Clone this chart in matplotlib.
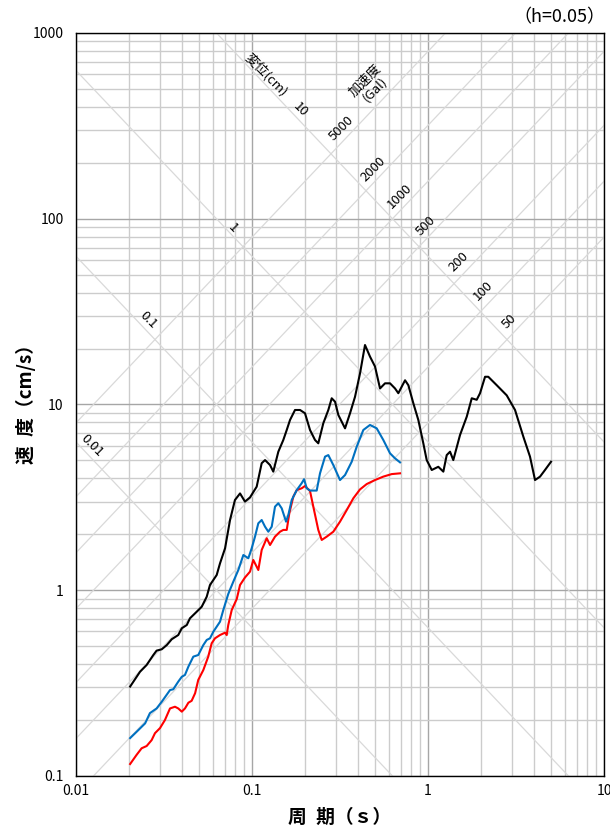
import numpy as np
import matplotlib
matplotlib.use("Agg")
import matplotlib.pyplot as plt

plt.rcParams['font.family'] = ['Noto Sans CJK JP', 'DejaVu Sans']

# spectra (period s, velocity cm/s)
t_black = [0.0203, 0.0231, 0.0252, 0.0275, 0.0287, 0.0307, 0.0328, 0.035, 0.0381, 0.0399,
           0.0426, 0.0444, 0.0485, 0.0518, 0.0553, 0.0577, 0.063, 0.0658, 0.0703, 0.075,
           0.080, 0.0855, 0.0912, 0.0974, 0.1063, 0.1135, 0.1186, 0.1266, 0.1321, 0.1411,
           0.1506, 0.1575, 0.1644, 0.1755, 0.1875, 0.2, 0.2136, 0.228, 0.238, 0.2542,
           0.2714, 0.2837, 0.2963, 0.3094, 0.3377, 0.3605, 0.3848, 0.4108, 0.4385, 0.4682,
           0.5, 0.5337, 0.5698, 0.6083, 0.6494, 0.6781, 0.7405, 0.7732, 0.8253, 0.881,
           0.9404, 0.983, 1.05, 1.144, 1.222, 1.277, 1.334, 1.392, 1.52, 1.66,
           1.772, 1.891, 1.975, 2.109, 2.2, 2.457, 2.8, 3.122, 3.48, 3.797,
           4.055, 4.33, 4.62, 5.0]
v_black = [0.303, 0.364, 0.396, 0.448, 0.473, 0.481, 0.507, 0.545, 0.574, 0.624,
           0.650, 0.706, 0.766, 0.815, 0.923, 1.067, 1.208, 1.396, 1.683, 2.388,
           3.06, 3.32, 3.0, 3.16, 3.61, 4.83, 5.02, 4.72, 4.35, 5.57,
           6.44, 7.29, 8.25, 9.34, 9.34, 8.97, 7.29, 6.44, 6.18, 7.93,
           9.34, 10.8, 10.35, 8.78, 7.44, 8.97, 11.0, 14.7, 20.9, 18.1,
           16.0, 12.2, 13.0, 13.0, 12.2, 11.5, 13.5, 12.7, 10.15, 8.25,
           6.18, 5.02, 4.44, 4.62, 4.35, 5.34, 5.57, 5.02, 6.85, 8.6,
           10.8, 10.6, 11.5, 14.1, 14.1, 12.7, 11.2, 9.34, 6.71, 5.24,
           3.92, 4.09, 4.44, 4.92]

t_blue = [0.0203, 0.0221, 0.0247, 0.0263, 0.0287, 0.0307, 0.0342, 0.0357, 0.0381, 0.0399,
          0.0416, 0.0435, 0.0464, 0.0495, 0.0529, 0.0553, 0.0577, 0.0603, 0.0658, 0.0687,
          0.0733, 0.0783, 0.0836, 0.0893, 0.0953, 0.0996, 0.104, 0.1086, 0.1135, 0.1186,
          0.1238, 0.1294, 0.1351, 0.1411, 0.1475, 0.1561, 0.1608, 0.1681, 0.1795, 0.1916,
          0.1975, 0.2046, 0.2136, 0.2331, 0.2434, 0.26, 0.2714, 0.2897, 0.3162, 0.3377,
          0.3686, 0.3935, 0.429, 0.4682, 0.511, 0.5572, 0.6083, 0.6494, 0.6934]
v_blue = [0.160, 0.173, 0.192, 0.218, 0.231, 0.251, 0.290, 0.293, 0.322, 0.342,
          0.350, 0.388, 0.439, 0.448, 0.507, 0.540, 0.551, 0.598, 0.677, 0.783,
          0.955, 1.112, 1.285, 1.548, 1.486, 1.683, 1.943, 2.293, 2.388, 2.198,
          2.066, 2.198, 2.818, 2.94, 2.76, 2.34, 2.54, 3.06, 3.46, 3.77,
          3.96, 3.54, 3.44, 3.44, 4.26, 5.24, 5.34, 4.72, 3.92, 4.17,
          4.92, 5.93, 7.29, 7.76, 7.44, 6.44, 5.46, 5.13, 4.88]

t_red = [0.0203, 0.0221, 0.0236, 0.0252, 0.0269, 0.0281, 0.030, 0.032, 0.0342, 0.0365,
         0.0381, 0.0399, 0.0416, 0.0435, 0.0454, 0.0475, 0.0495, 0.0529, 0.0564, 0.059,
         0.0616, 0.0658, 0.0703, 0.0718, 0.0733, 0.0767, 0.0819, 0.0855, 0.0912, 0.0974,
         0.1017, 0.1086, 0.1135, 0.1212, 0.1266, 0.1351, 0.1443, 0.1506, 0.1575, 0.1629,
         0.1717, 0.1795, 0.1916, 0.2, 0.2136, 0.223, 0.238, 0.2489, 0.2657, 0.2897,
         0.3162, 0.3451, 0.3764, 0.4108, 0.4485, 0.5, 0.5572, 0.6221, 0.6934]
v_red = [0.116, 0.130, 0.141, 0.145, 0.156, 0.170, 0.181, 0.200, 0.231, 0.236,
         0.231, 0.222, 0.231, 0.248, 0.254, 0.279, 0.329, 0.372, 0.439, 0.518,
         0.551, 0.574, 0.591, 0.574, 0.650, 0.783, 0.897, 1.067, 1.171, 1.259,
         1.455, 1.285, 1.647, 1.905, 1.752, 1.943, 2.066, 2.112, 2.112, 2.596,
         3.19, 3.46, 3.54, 3.64, 3.42, 2.818, 2.112, 1.865, 1.943, 2.066,
         2.34, 2.70, 3.126, 3.49, 3.73, 3.92, 4.09, 4.22, 4.26]

# tripartite guide lines
disp_cm = [0.01, 0.1, 1, 10]
acc_gal = [50, 100, 200, 500, 1000, 2000, 5000]

# label anchors (period, velocity) for the guide lines
disp_lbl = [("0.01", 0.0123, 5.98), ("0.1", 0.0257, 28.5), ("1", 0.0781, 89.2), ("10", 0.1875, 385)]
acc_lbl = [("5000", 0.3234, 307), ("2000", 0.489, 184.6), ("1000", 0.6934, 131.4),
           ("500", 0.974, 91.4), ("200", 1.487, 58.7), ("100", 2.062, 41.0), ("50", 2.897, 27.9)]

fig = plt.figure(figsize=(6.1, 8.31), dpi=100)
ax = fig.add_axes([0.1246, 0.0662, 0.8656, 0.8941])
ax.set_xscale('log')
ax.set_yscale('log')
ax.set_xlim(0.01, 10)
ax.set_ylim(0.1, 1000)

ax.grid(True, which='major', color='#a6a6a6', lw=1.0)
ax.grid(True, which='minor', color='#cccccc', lw=1.0)
ax.set_axisbelow(True)

tt = np.logspace(-2, 1, 50)
for d in disp_cm:
    ax.plot(tt, 2 * np.pi * d / tt, color='#d9d9d9', lw=0.9, zorder=1)
for a in acc_gal:
    ax.plot(tt, a * tt / (2 * np.pi), color='#d9d9d9', lw=0.9, zorder=1)

for s, t, v in disp_lbl:
    ax.text(t, v, s, rotation=-45, ha='center', va='center', fontsize=9.5)
for s, t, v in acc_lbl:
    ax.text(t, v, s, rotation=45, ha='center', va='center', fontsize=9.5)
ax.text(0.120, 594, "変位(cm)", rotation=-45, ha='center', va='center', fontsize=9.5)
ax.text(0.468, 525, "加速度\n(Gal)", rotation=45, ha='center', va='center',
        fontsize=9.5, linespacing=1.0, multialignment='center')

ax.plot(t_black, v_black, color='black', lw=1.5, zorder=5)
ax.plot(t_blue, v_blue, color='#0070c0', lw=1.5, zorder=4)
ax.plot(t_red, v_red, color='#ff0000', lw=1.5, zorder=3)

ax.set_xticks([0.01, 0.1, 1, 10], ["0.01", "0.1", "1", "10"])
ax.set_yticks([0.1, 1, 10, 100, 1000], ["0.1", "1", "10", "100", "1000"])
ax.tick_params(which='both', length=0, labelsize=10)
ax.tick_params(axis='y', pad=9)
ax.tick_params(axis='x', pad=6)
for sp in ax.spines.values():
    sp.set_color('black')
    sp.set_linewidth(1.0)

ax.set_xlabel("周\u2002期（ｓ）", fontsize=13.5, fontweight='bold')
ax.xaxis.set_label_coords(0.5, -0.043)
ax.set_ylabel("速\u2002度（cm/s）", fontsize=13.5, fontweight='bold')
ax.yaxis.set_label_coords(-0.076, 0.507)
fig.text(0.993, 0.9795, "（h=0.05）", ha='right', va='center', fontsize=13)

fig.savefig("out.png", dpi=100)
